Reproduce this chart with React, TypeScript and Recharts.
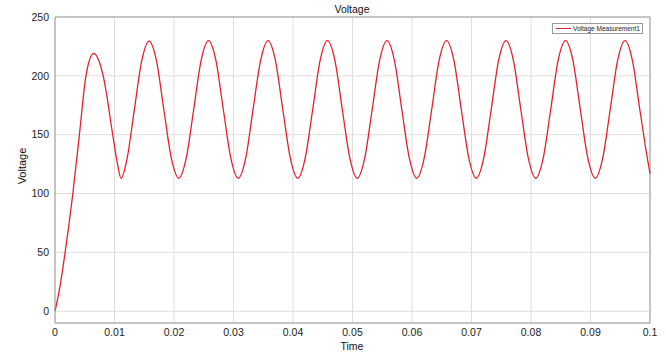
import React from 'react';
import {
  LineChart,
  Line,
  XAxis,
  YAxis,
  CartesianGrid,
  ReferenceLine,
  Customized,
} from 'recharts';

const chartTitle = 'Voltage';
const xAxisTitle = 'Time';
const yAxisTitle = 'Voltage';
const seriesName = 'Voltage Measurement1';

const timeValues = [
  0, 0.0008, 0.0017, 0.003, 0.0041, 0.0052, 0.0065, 0.0081, 0.0097, 0.0104, 0.0111,
  0.01205, 0.0133, 0.01455, 0.0158, 0.01705, 0.0183, 0.01955,
  0.0208, 0.02205, 0.0233, 0.02455, 0.0258, 0.02705, 0.0283, 0.02955,
  0.0308, 0.03205, 0.0333, 0.03455, 0.0358, 0.03705, 0.0383, 0.03955,
  0.0408, 0.04205, 0.0433, 0.04455, 0.0458, 0.04705, 0.0483, 0.04955,
  0.0508, 0.05205, 0.0533, 0.05455, 0.0558, 0.05705, 0.0583, 0.05955,
  0.0608, 0.06205, 0.0633, 0.06455, 0.0658, 0.06705, 0.0683, 0.06955,
  0.0708, 0.07205, 0.0733, 0.07455, 0.0758, 0.07705, 0.0783, 0.07955,
  0.0808, 0.08205, 0.0833, 0.08455, 0.0858, 0.08705, 0.0883, 0.08955,
  0.0908, 0.09205, 0.0933, 0.09455, 0.0958, 0.09705, 0.0983, 0.09955,
  0.1,
];

const voltageValues = [
  0, 20, 50, 100, 150, 200, 219, 200, 150, 128, 113,
  128, 170, 212, 229.5, 213, 171, 130,
  113, 130, 171, 213, 230, 213, 171, 130,
  113, 130, 172, 213, 230, 213, 171, 130,
  113, 130, 171, 213, 230, 213, 171, 130,
  113, 130, 171, 213, 230, 213, 171, 130,
  113, 130, 171, 213, 230, 213, 171, 130,
  113, 130, 171, 213, 230, 213, 171, 130,
  113, 130, 171, 213, 230, 213, 171, 130,
  113, 130, 171, 213, 230, 213, 171, 130,
  117,
];

const xTicks = [0, 0.01, 0.02, 0.03, 0.04, 0.05, 0.06, 0.07, 0.08, 0.09, 0.1];
const yTicks = [0, 50, 100, 150, 200, 250];

const data = timeValues.map((t, i) => ({ time: t, voltage: voltageValues[i] }));

const FONT = '"Liberation Sans", Arial, Helvetica, sans-serif';
const LINE_COLOR = '#e3202e';
const AXIS_COLOR = '#9a9a9a';
const GRID_COLOR = '#dedede';

const formatX = (v: number) => String(Number(v.toFixed(2)));

const Overlay = () => (
  <g fontFamily={FONT}>
    <text x={352} y={13} textAnchor="middle" fontSize={10.5} fill="#111">
      {chartTitle}
    </text>
    <text x={352} y={349.5} textAnchor="middle" fontSize={10.5} fill="#111">
      {xAxisTitle}
    </text>
    <text
      x={26}
      y={166}
      textAnchor="middle"
      fontSize={11}
      fill="#111"
      transform="rotate(-90 26 166)"
    >
      {yAxisTitle}
    </text>
    <rect x={552.5} y={23.5} width={90} height={10} fill="#fff" stroke={AXIS_COLOR} strokeWidth={1} />
    <line x1={556} y1={28.5} x2={571} y2={28.5} stroke={LINE_COLOR} strokeWidth={1} />
    <text x={573} y={31} fontSize={6.5} fill="#222">
      {seriesName}
    </text>
  </g>
);

export default function App() {
  return (
    <div style={{ position: 'absolute', left: 0, top: 0, background: '#fff' }}>
      <LineChart
        width={666}
        height={352}
        data={data}
        margin={{ top: 17, right: 16, left: 0, bottom: 0 }}
      >
        <CartesianGrid stroke={GRID_COLOR} strokeWidth={1} />
        <XAxis
          dataKey="time"
          type="number"
          domain={[0, 0.1]}
          ticks={xTicks}
          tickFormatter={formatX}
          height={29}
          tickLine={false}
          tickSize={6}
          tickMargin={0}
          axisLine={{ stroke: AXIS_COLOR }}
          tick={{ fontSize: 10.5, fill: '#222', fontFamily: FONT }}
          interval={0}
        />
        <YAxis
          type="number"
          domain={[-10, 250]}
          ticks={yTicks}
          width={55}
          tickLine={false}
          tickSize={6}
          tickMargin={0}
          axisLine={{ stroke: AXIS_COLOR }}
          tick={{ fontSize: 10.5, fill: '#222', fontFamily: FONT }}
          interval={0}
          allowDataOverflow
        />
        <ReferenceLine y={250} stroke={AXIS_COLOR} />
        <ReferenceLine x={0.1} stroke={AXIS_COLOR} />
        <Line
          type="monotone"
          dataKey="voltage"
          name={seriesName}
          stroke={LINE_COLOR}
          strokeWidth={1.3}
          dot={false}
          isAnimationActive={false}
        />
        <Customized component={Overlay} />
      </LineChart>
    </div>
  );
}
